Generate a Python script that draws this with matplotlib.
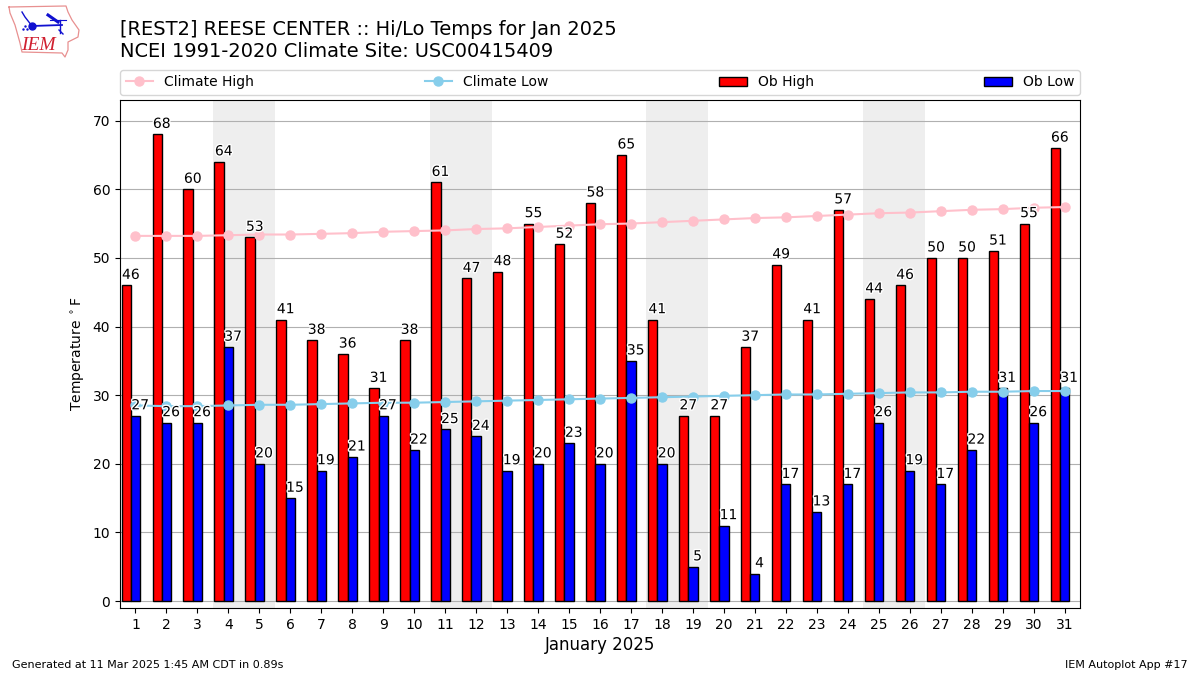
#!/usr/bin/env python
# coding: utf-8

import numpy as np
import matplotlib
matplotlib.use('Agg')
import matplotlib.pyplot as plt
import matplotlib.patheffects as PathEffects

days = list(range(1, 32))
ob_high = [46, 68, 60, 64, 53, 41, 38, 36, 31, 38, 61, 47, 48, 55, 52, 58,
           65, 41, 27, 27, 37, 49, 41, 57, 44, 46, 50, 50, 51, 55, 66]
ob_low = [27, 26, 26, 37, 20, 15, 19, 21, 27, 22, 25, 24, 19, 20, 23, 20,
          35, 20, 5, 11, 4, 17, 13, 17, 26, 19, 17, 22, 31, 26, 31]
clim_high = [53.2, 53.2, 53.2, 53.3, 53.4, 53.4, 53.5, 53.6, 53.8, 53.9, 54.0,
             54.2, 54.3, 54.5, 54.7, 54.9, 55.0, 55.2, 55.4, 55.6, 55.8, 55.9,
             56.1, 56.3, 56.5, 56.6, 56.8, 57.0, 57.1, 57.3, 57.4]
clim_low = [28.5, 28.4, 28.4, 28.5, 28.6, 28.6, 28.7, 28.8, 28.9, 28.9, 29.0,
            29.1, 29.2, 29.3, 29.4, 29.5, 29.6, 29.7, 29.8, 29.9, 30.0, 30.1,
            30.1, 30.2, 30.3, 30.4, 30.4, 30.5, 30.5, 30.6, 30.6]
weekends = [(3.5, 5.5), (10.5, 12.5), (17.5, 19.5), (24.5, 26.5)]
y_ticks = [0, 10, 20, 30, 40, 50, 60, 70]

# logo outline, in pixels of the little logo box
iowa_x = [9, 66, 68, 72, 79, 78, 68, 68, 65, 62, 22, 20, 15, 10, 9]
iowa_y = [7, 6, 12, 20, 30, 37, 42, 50, 57, 53, 52, 43, 25, 13, 7]

x = np.array(days)

fig = plt.figure(figsize=(12, 6.75), dpi=100)
ax = fig.add_axes([0.1, 0.0993, 0.8, 0.7526])

for start, end in weekends:
    ax.axvspan(start, end, color='#eeeeee', zorder=0, lw=0)
ax.grid(axis='y', color='#b0b0b0', zorder=1)
ax.set_axisbelow(True)

ax.bar(x - 0.3, ob_high, width=0.3, color='r', edgecolor='k', label='Ob High', zorder=2)
ax.bar(x, ob_low, width=0.3, color='b', edgecolor='k', label='Ob Low', zorder=2)
ax.plot(x, clim_high, color='pink', marker='o', ms=6.5, lw=1.5, label='Climate High', zorder=3)
ax.plot(x, clim_low, color='skyblue', marker='o', ms=6.5, lw=1.5, label='Climate Low', zorder=3)

outline = [PathEffects.withStroke(linewidth=2, foreground='white')]
for d, hi, lo in zip(days, ob_high, ob_low):
    ax.text(d - 0.15, hi + 0.5, str(hi), ha='center', va='bottom', zorder=4, path_effects=outline)
    ax.text(d + 0.15, lo + 0.5, str(lo), ha='center', va='bottom', zorder=4, path_effects=outline)

ax.set_xlim(0.5, 31.5)
ax.set_ylim(-1, 73)
ax.set_xticks(days)
ax.set_yticks(y_ticks)
ax.set_xlabel('January 2025', fontsize=12, labelpad=3)
ax.set_ylabel(r'Temperature $^\circ$F')

handles, labels = ax.get_legend_handles_labels()
order = [labels.index(n) for n in ['Climate High', 'Climate Low', 'Ob High', 'Ob Low']]
ax.legend([handles[i] for i in order], [labels[i] for i in order], ncol=4,
          loc='lower left', bbox_to_anchor=(0, 1.01, 1, 0.05), mode='expand',
          borderaxespad=0)

fig.text(0.1, 0.91, '[REST2] REESE CENTER :: Hi/Lo Temps for Jan 2025\n'
         'NCEI 1991-2020 Climate Site: USC00415409', fontsize=13.95, va='bottom', ha='left')
fig.text(0.01, 0.0104, 'Generated at 11 Mar 2025 1:45 AM CDT in 0.89s', fontsize=8)
fig.text(0.99, 0.0104, 'IEM Autoplot App #17', fontsize=8, ha='right')

# rough IEM logo
logo = fig.add_axes([0, 1 - 60 / 675, 85 / 1200, 60 / 675])
logo.set_xlim(0, 85)
logo.set_ylim(60, 0)
logo.axis('off')
logo.plot(iowa_x, iowa_y, color='#e89090', lw=0.9)
blue = '#1010d0'
logo.plot([32, 62], [26, 25], color=blue, lw=1.3)
logo.plot([32], [26], 'o', color=blue, ms=5)
logo.plot([22, 25, 32], [12, 17, 26], color=blue, lw=1.0)
logo.plot([48, 58], [15, 22], color=blue, lw=2.2)
logo.plot([50, 66], [20, 20], color=blue, lw=0.8)
logo.plot([60, 60], [20, 33], color=blue, lw=1.0)
logo.plot([59, 63], [30, 34], color=blue, lw=1.0)
logo.plot([23, 25, 27], [29, 26, 29], '.', color=blue, ms=1.5)
logo.text(21, 45, 'IEM', color='#d02030', fontsize=14, family='Liberation Serif',
          style='italic', va='center')

plt.savefig('out.png')
